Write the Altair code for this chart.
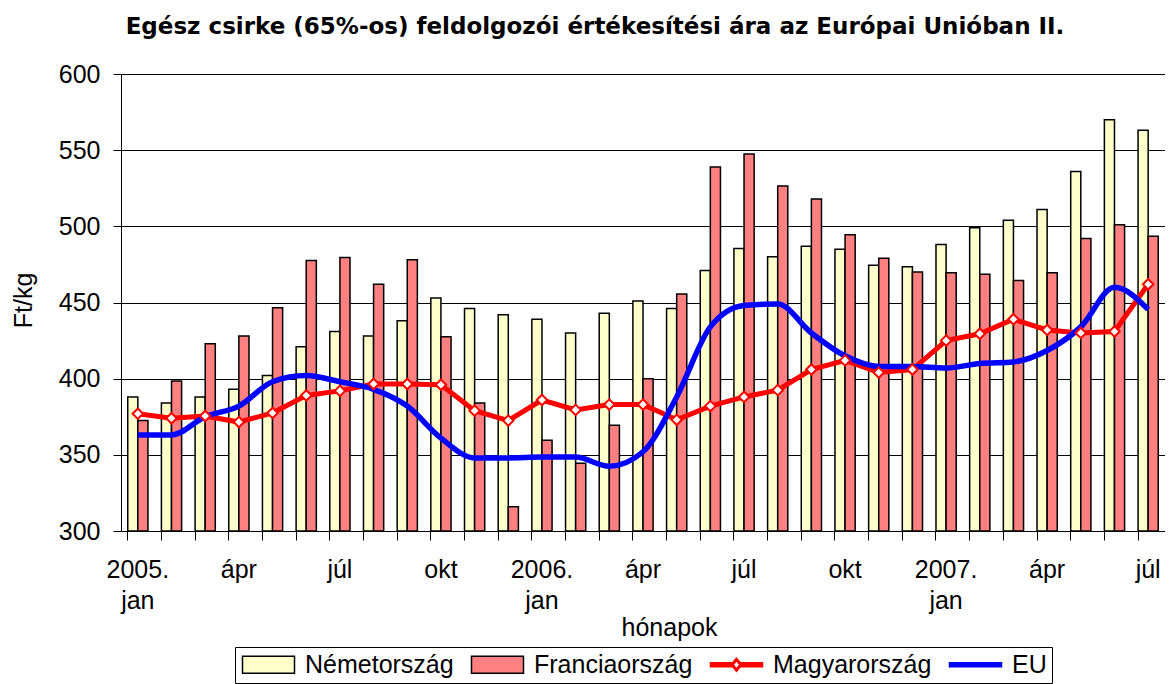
import json
import altair as alt
import pandas as pd

series_names = ["Németország", "Franciaország", "Magyarország", "EU"]
fill_colors = ["#FFFFCC", "#FF8080", "#FF0000", "#0000FF"]
stroke_colors = ["black", "black", "#FF0000", "#0000FF"]

months = [
    "2005 jan", "2005 febr", "2005 márc", "2005 ápr", "2005 máj", "2005 jún",
    "2005 júl", "2005 aug", "2005 szept", "2005 okt", "2005 nov", "2005 dec",
    "2006 jan", "2006 febr", "2006 márc", "2006 ápr", "2006 máj", "2006 jún",
    "2006 júl", "2006 aug", "2006 szept", "2006 okt", "2006 nov", "2006 dec",
    "2007 jan", "2007 febr", "2007 márc", "2007 ápr", "2007 máj", "2007 jún",
    "2007 júl",
]
tick_labels = [
    ["2005.", "jan"], "", "", "ápr", "", "", "júl", "", "", "okt", "", "",
    ["2006.", "jan"], "", "", "ápr", "", "", "júl", "", "", "okt", "", "",
    ["2007.", "jan"], "", "", "ápr", "", "", "júl",
]

nemet = [388, 384, 388, 393, 402, 421, 431, 428, 438, 453, 446, 442,
         439, 430, 443, 451, 446, 471, 485.5, 480, 487, 485, 474.5, 473.5,
         488, 499, 504, 511, 536, 570, 563]
francia = [372.5, 398.5, 423, 428, 446.5, 477.5, 479.5, 462, 478, 427.5, 384, 316,
           359.5, 344.5, 369.5, 400, 455.5, 539, 547.5, 526.5, 518, 494.5, 479, 470,
           469.5, 468.5, 464.5, 469.5, 492, 501, 493.5]
magyar = [377, 374, 375.5, 371.5, 377.5, 389, 392, 396.5, 396.5, 396, 379, 372.5,
          386, 379.5, 383, 383, 373, 382, 388, 392.5, 406, 412, 404, 406,
          425, 429.5, 439, 432, 430, 431, 462]
eu = [363, 363, 375, 382, 398, 402, 398, 393, 382, 361, 348, 348,
      348.5, 348.5, 342.5, 352, 388, 434, 448, 449, 430, 415, 408, 408,
      407, 410, 411, 418.5, 434, 460, 445.5]

y_ticks = [300, 350, 400, 450, 500, 550, 600]
y_min, y_max = 300, 600

TITLE = "Egész csirke (65%-os) feldolgozói értékesítési ára az Európai Unióban II."


def long(values, name):
    return pd.DataFrame({"idx": list(range(len(months))), "honap": months,
                         "series": name, "value": values})


df_bars = pd.concat([long(nemet, series_names[0]), long(francia, series_names[1])])
df_hu = long(magyar, series_names[2])
df_eu = long(eu, series_names[3])
df_legend = pd.DataFrame({"series": series_names})

W, H = 1044, 457

x_scale = alt.Scale(paddingInner=0.4, paddingOuter=0.2)
y_scale = alt.Scale(domain=[y_min, y_max], nice=False, zero=False)

# legend symbol paths (unit box -1..1 = 20 px; drawn wider to the right)
rect_path = "M-1,-0.85H4.2V0.85H-1Z"
hu_path = ("M-1,-0.2H1.1V0.2H-1Z"
           "M2.1,-0.2H4.2V0.2H2.1Z"
           "M1.6,-0.65L2.15,0L1.6,0.65L1.05,0Z"
           "M1.6,-0.42L1.27,0L1.6,0.42L1.93,0Z")
eu_path = "M-1,-0.2H4.2V0.2H-1Z"
legend_shapes = [rect_path, rect_path, hu_path, eu_path]

fill_scale = alt.Scale(domain=series_names, range=fill_colors)
stroke_scale = alt.Scale(domain=series_names, range=stroke_colors)
shape_scale = alt.Scale(domain=series_names, range=legend_shapes)

legend = alt.Legend(
    orient="none", legendX=114, legendY=573, direction="horizontal", columns=4,
    symbolSize=400, symbolOpacity=1, symbolStrokeWidth=1.5,
    labelFontSize=25, labelFont="Liberation Sans",
    labelColor="black", labelOffset=40, labelLimit=400, columnPadding=14, padding=5,
    strokeColor="black",
)

x_axis = alt.Axis(
    labelExpr=json.dumps(tick_labels, ensure_ascii=False) + "[datum.value]",
    labelAngle=0, bandPosition=0, tickSize=9,
    labelPadding=17, labelFontSize=25, labelLineHeight=31, labelColor="black",
    labelOverlap=False, labelBound=False, labelFlush=False,
    domainColor="black", tickColor="black", grid=False,
    titleX=548, titleY=104, titleBaseline="alphabetic", titleAlign="center",
    titleFontSize=25, titleFontWeight="normal", titleColor="black",
)
y_axis = alt.Axis(
    values=y_ticks, tickSize=8, labelPadding=13, labelFontSize=25, labelColor="black",
    grid=True, gridColor="black", gridWidth=1, gridOpacity=1,
    domainColor="black", tickColor="black",
    titleX=-90, titleY=226, titleBaseline="alphabetic", titleAlign="center",
    titleFontSize=25, titleFontWeight="normal", titleColor="black",
)

x = alt.X("idx:O", scale=x_scale, axis=x_axis, title="hónapok", sort=list(range(len(months))))
y = alt.Y("value:Q", scale=y_scale, axis=y_axis, title="Ft/kg")

# invisible layer that only builds the combined legend
legend_layer = alt.Chart(df_legend).mark_point(filled=True, opacity=0).encode(
    fill=alt.Fill("series:N", scale=fill_scale, legend=legend, title=None),
    stroke=alt.Stroke("series:N", scale=stroke_scale, legend=legend, title=None),
    shape=alt.Shape("series:N", scale=shape_scale, legend=legend, title=None),
)

bars = alt.Chart(df_bars).mark_bar(stroke="black", strokeWidth=1.5).encode(
    x=x,
    xOffset=alt.XOffset("series:N", sort=series_names[:2],
                        scale=alt.Scale(paddingInner=0, paddingOuter=0)),
    y=y,
    y2=alt.datum(y_min),
    fill=alt.Fill("series:N", scale=fill_scale, legend=legend, title=None),
)
hu_line = alt.Chart(df_hu).mark_line(strokeWidth=5).encode(
    x=x, y=y, stroke=alt.Stroke("series:N", scale=stroke_scale, legend=legend, title=None))
eu_line = alt.Chart(df_eu).mark_line(strokeWidth=5.5, interpolate="monotone").encode(
    x=x, y=y, stroke=alt.Stroke("series:N", scale=stroke_scale, legend=legend, title=None))
hu_pts = alt.Chart(df_hu).mark_point(
    shape="diamond", filled=True, fill="white", stroke=stroke_colors[2],
    strokeWidth=2, size=110, opacity=1,
).encode(x=x, y=y)

chart = alt.layer(legend_layer, bars, hu_line, eu_line, hu_pts).properties(
    width=W, height=H,
    autosize=alt.AutoSizeParams(type="none"),
    padding={"left": 113, "top": 66, "right": 0, "bottom": 170},
    title=alt.TitleParams(
        TITLE, font="DejaVu Sans", fontSize=23, fontWeight="bold", color="black",
        anchor="middle", frame="group", dx=-48, offset=5, baseline="alphabetic",
    ),
).configure(font="Liberation Sans").configure_view(stroke=None)

chart.save("out.html", embed_options={"renderer": "svg", "actions": False})
